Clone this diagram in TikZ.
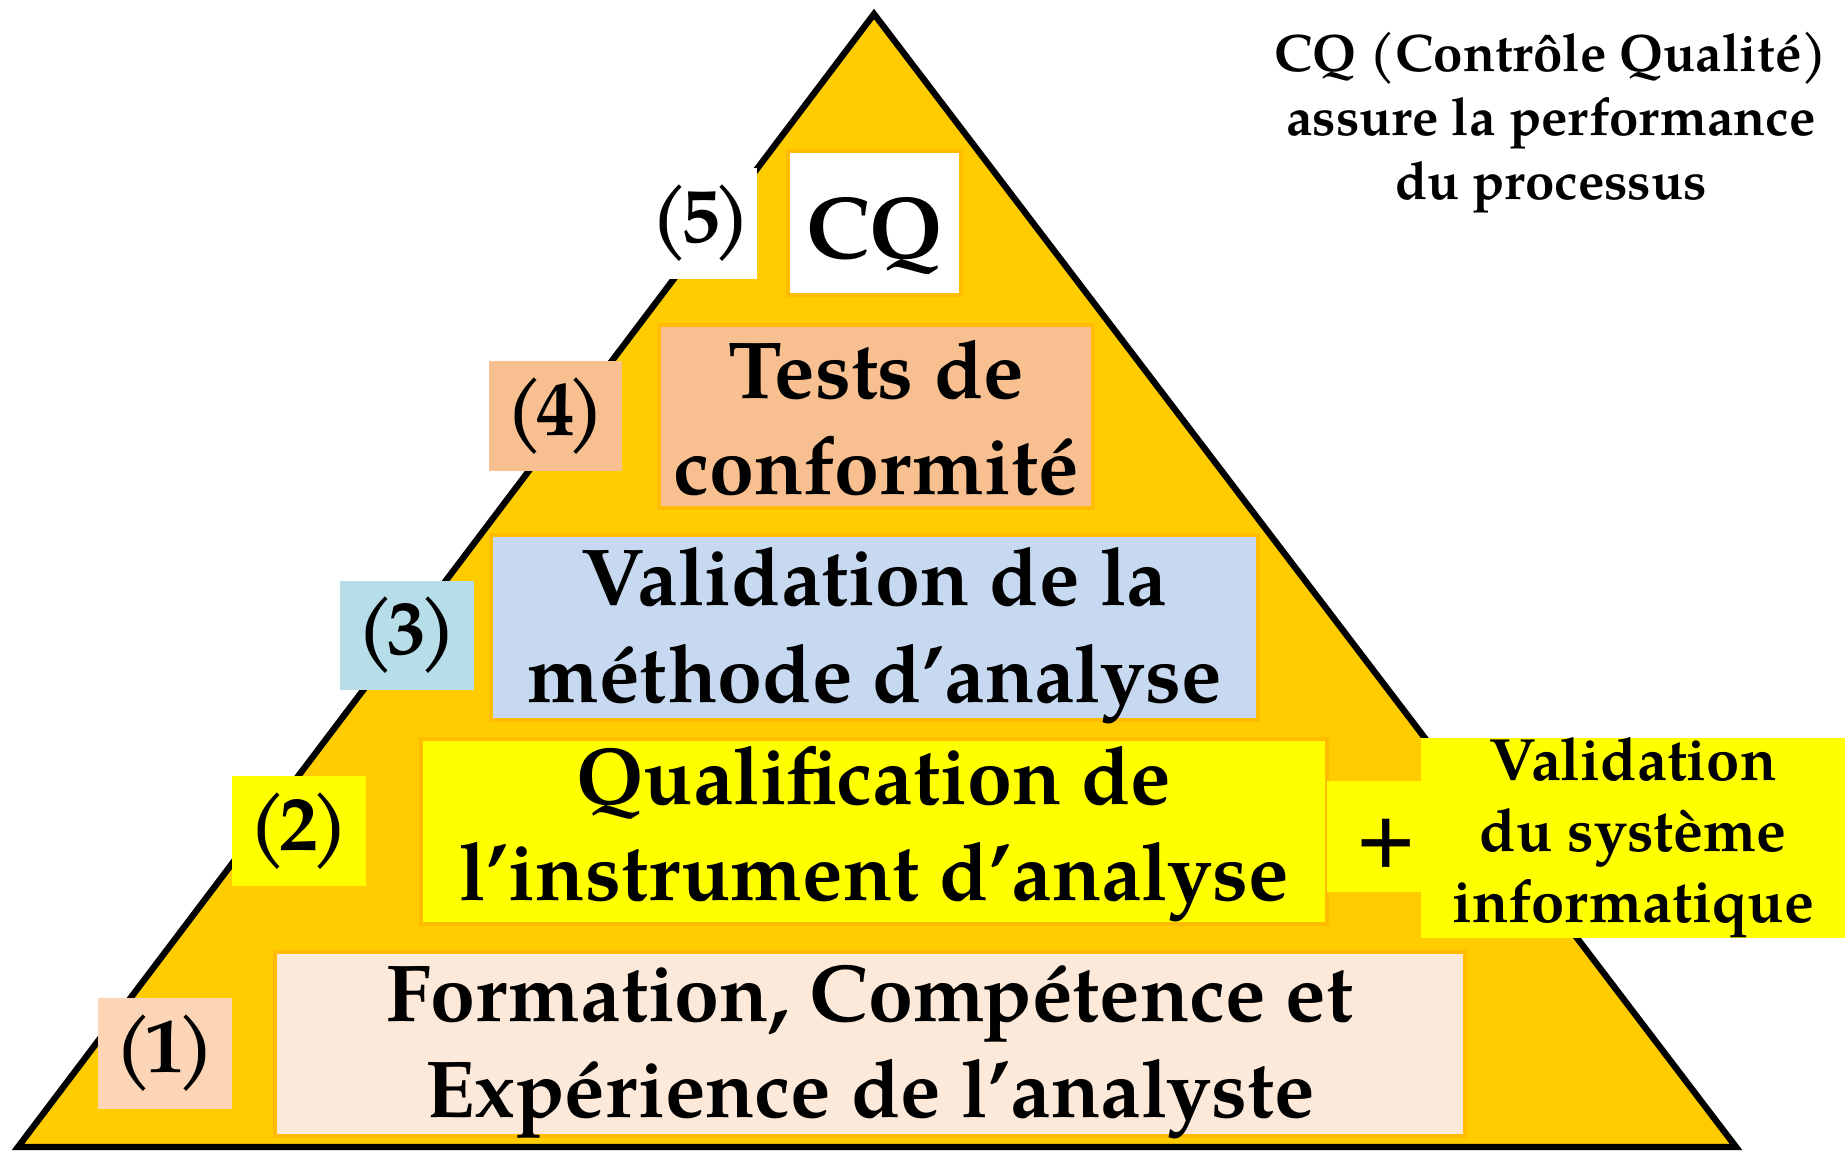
\documentclass[tikz,border=0pt]{standalone}
\usepackage{fontspec}
\setmainfont{TeX Gyre Pagella}

\definecolor{pyrgold}{RGB}{255,204,0}
\definecolor{edgegold}{RGB}{255,188,0}
\definecolor{peach}{RGB}{248,192,144}
\definecolor{palepeach}{RGB}{253,233,217}
\definecolor{tagpeach}{RGB}{251,213,181}
\definecolor{paleblue}{RGB}{198,217,240}
\definecolor{tagblue}{RGB}{183,221,232}
\definecolor{brightyellow}{RGB}{255,255,0}

% level number in tight brackets
\newcommand{\levelno}[1]{(\kern-2pt#1\kern-2pt)}

\tikzset{
    level/.style={rectangle, draw=edgegold, line width=1.2pt, inner sep=0pt},
    leveltext/.style={inner sep=0pt, align=center, font=\bfseries\fontsize{23}{27.5}\selectfont},
    tag/.style={rectangle, inner sep=0pt, font=\bfseries\fontsize{22}{26}\selectfont},
}

\begin{document}
\begin{tikzpicture}
    \useasboundingbox[fill=white] (0,0) rectangle (18.45,11.53);

    % pyramid
    \coordinate (Top) at (8.74,11.39);
    \coordinate (BaseL) at (0.18,0.06);
    \coordinate (BaseR) at (17.36,0.06);
    \draw[fill=pyrgold, line width=1.8pt, line join=miter] (Top) -- (BaseL) -- (BaseR) -- cycle;

    % levels of the pyramid
    \node[level, fill=white, minimum width=1.73cm, minimum height=1.44cm,
        font=\bfseries\fontsize{25}{30}\selectfont] (CQ) at (8.745,9.30) {\rule{0pt}{25pt}CQ};
    \node[level, fill=peach, minimum width=4.34cm, minimum height=1.83cm] (Tests) at (8.76,7.365) {};
    \node[level, fill=paleblue, minimum width=7.67cm, minimum height=1.85cm] (Methode) at (8.745,5.255) {};
    \node[level, fill=brightyellow, minimum width=9.06cm, minimum height=1.85cm] (Instrument) at (8.74,3.215) {};
    \node[level, fill=palepeach, minimum width=11.90cm, minimum height=1.84cm] (Formation) at (8.70,1.09) {};

    \node[leveltext] (TestsText) at (8.76,7.35) {Tests de\\conformité};
    \node[leveltext] (MethodeText) at (8.745,5.175) {Validation de la\\méthode d’analyse};
    \node[leveltext] (InstrumentText) at (8.74,3.19) {Qualification de\\l’instrument d’analyse};
    \node[leveltext] (FormationText) at (8.70,1.01) {Formation, Compétence et\\Expérience de l’analyste};

    % numbers on the left
    \node[tag, fill=white, minimum width=1.12cm, minimum height=1.11cm] (N5) at (7.01,9.295) {\levelno{5}};
    \node[tag, fill=peach, minimum width=1.33cm, minimum height=1.10cm] (N4) at (5.555,7.37) {\levelno{4}};
    \node[tag, fill=tagblue, minimum width=1.34cm, minimum height=1.09cm] (N3) at (4.07,5.175) {\levelno{3}};
    \node[tag, fill=brightyellow, minimum width=1.34cm, minimum height=1.10cm] (N2) at (2.99,3.22) {\levelno{2}};
    \node[tag, fill=tagpeach, minimum width=1.34cm, minimum height=1.11cm] (N1) at (1.65,0.995) {\levelno{1}};

    % computer system beside level 2
    \node[rectangle, fill=brightyellow, inner sep=0pt, minimum width=0.96cm, minimum height=1.11cm]
        (Joint) at (13.745,3.165) {};
    \node[rectangle, fill=brightyellow, inner sep=0pt, minimum width=4.24cm, minimum height=1.90cm,
        align=center, font=\bfseries\fontsize{17}{20.2}\selectfont] (Systeme) at (16.33,3.15)
        {Validation\\du système\\informatique};
    \node[font=\bfseries\fontsize{23}{27}\selectfont] (Plus) at (13.86,3.10) {+};

    % note at top right
    \node[align=center, font=\bfseries\fontsize{15}{18.2}\selectfont] (Note) at (15.51,10.30)
        {CQ (Contrôle Qualité)\\assure la performance\\du processus};
\end{tikzpicture}
\end{document}
